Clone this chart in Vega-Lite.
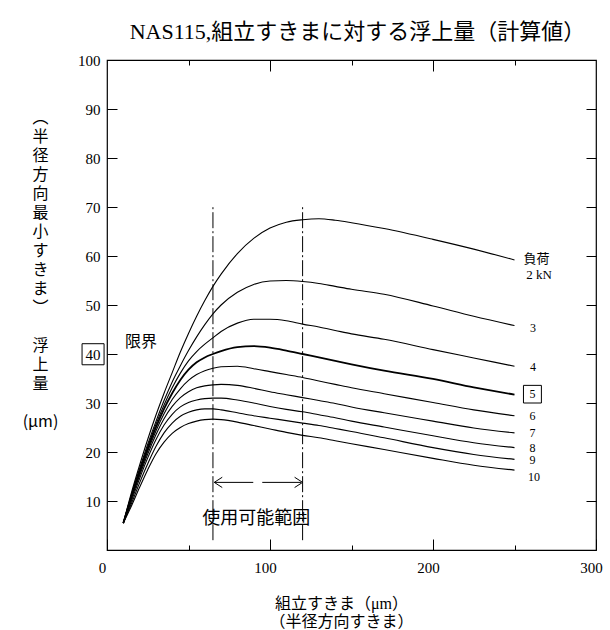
{
  "$schema": "https://vega.github.io/schema/vega-lite/v6.json",
  "width": 489,
  "height": 490,
  "autosize": "none",
  "padding": {"left": 107, "top": 60, "right": 14, "bottom": 80},
  "title": {"text": "NAS115,組立すきまに対する浮上量（計算値）", "font": "Liberation Serif, Noto Sans CJK JP", "fontSize": 22, "fontWeight": "normal", "anchor": "middle", "dx": 6, "offset": 9, "color": "black"},
  "datasets": {
    "curves": [
      {"k":2,"x":10,"y":5.5},{"k":2,"x":15,"y":11.7},{"k":2,"x":20,"y":17.3},{"k":2,"x":25,"y":22.6},{"k":2,"x":30,"y":27.5},{"k":2,"x":35,"y":32.0},{"k":2,"x":40,"y":36.2},{"k":2,"x":45,"y":40.4},{"k":2,"x":50,"y":44.2},{"k":2,"x":55,"y":47.7},{"k":2,"x":60,"y":50.9},{"k":2,"x":65,"y":53.8},{"k":2,"x":70,"y":56.3},{"k":2,"x":80,"y":60.5},{"k":2,"x":90,"y":63.6},{"k":2,"x":100,"y":65.7},{"k":2,"x":110,"y":66.9},{"k":2,"x":120,"y":67.4},{"k":2,"x":130,"y":67.6},{"k":2,"x":140,"y":67.3},{"k":2,"x":150,"y":66.8},{"k":2,"x":170,"y":65.6},{"k":2,"x":200,"y":63.4},{"k":2,"x":225,"y":61.4},{"k":2,"x":250,"y":59.2},
      {"k":3,"x":10,"y":5.5},{"k":3,"x":15,"y":11.3},{"k":3,"x":20,"y":16.6},{"k":3,"x":25,"y":21.6},{"k":3,"x":30,"y":26.2},{"k":3,"x":35,"y":30.5},{"k":3,"x":40,"y":34.3},{"k":3,"x":45,"y":37.6},{"k":3,"x":50,"y":40.7},{"k":3,"x":55,"y":43.5},{"k":3,"x":60,"y":46.0},{"k":3,"x":65,"y":48.2},{"k":3,"x":70,"y":50.0},{"k":3,"x":80,"y":52.6},{"k":3,"x":90,"y":54.2},{"k":3,"x":100,"y":54.9},{"k":3,"x":110,"y":55.0},{"k":3,"x":120,"y":54.8},{"k":3,"x":130,"y":54.4},{"k":3,"x":140,"y":53.8},{"k":3,"x":150,"y":53.2},{"k":3,"x":170,"y":52.2},{"k":3,"x":200,"y":49.8},{"k":3,"x":225,"y":47.7},{"k":3,"x":250,"y":45.8},
      {"k":4,"x":10,"y":5.5},{"k":4,"x":15,"y":11.1},{"k":4,"x":20,"y":16.3},{"k":4,"x":25,"y":21.1},{"k":4,"x":30,"y":25.6},{"k":4,"x":35,"y":29.6},{"k":4,"x":40,"y":33.1},{"k":4,"x":45,"y":36.1},{"k":4,"x":50,"y":38.6},{"k":4,"x":55,"y":40.5},{"k":4,"x":60,"y":42.0},{"k":4,"x":65,"y":43.3},{"k":4,"x":70,"y":44.6},{"k":4,"x":80,"y":46.3},{"k":4,"x":90,"y":47.1},{"k":4,"x":100,"y":47.1},{"k":4,"x":110,"y":46.8},{"k":4,"x":120,"y":46.1},{"k":4,"x":130,"y":45.5},{"k":4,"x":140,"y":44.8},{"k":4,"x":150,"y":44.1},{"k":4,"x":170,"y":43.0},{"k":4,"x":200,"y":40.9},{"k":4,"x":225,"y":39.2},{"k":4,"x":250,"y":37.5},
      {"k":5,"x":10,"y":5.5},{"k":5,"x":15,"y":10.9},{"k":5,"x":20,"y":16.0},{"k":5,"x":25,"y":20.7},{"k":5,"x":30,"y":25.0},{"k":5,"x":35,"y":28.8},{"k":5,"x":40,"y":32.0},{"k":5,"x":45,"y":34.7},{"k":5,"x":50,"y":36.8},{"k":5,"x":55,"y":38.3},{"k":5,"x":60,"y":39.3},{"k":5,"x":65,"y":40.0},{"k":5,"x":70,"y":40.6},{"k":5,"x":80,"y":41.4},{"k":5,"x":90,"y":41.6},{"k":5,"x":100,"y":41.3},{"k":5,"x":110,"y":40.7},{"k":5,"x":120,"y":40.0},{"k":5,"x":130,"y":39.3},{"k":5,"x":140,"y":38.6},{"k":5,"x":150,"y":37.9},{"k":5,"x":170,"y":36.6},{"k":5,"x":200,"y":34.9},{"k":5,"x":225,"y":33.2},{"k":5,"x":250,"y":31.7},
      {"k":6,"x":10,"y":5.5},{"k":6,"x":15,"y":10.7},{"k":6,"x":20,"y":15.6},{"k":6,"x":25,"y":20.2},{"k":6,"x":30,"y":24.3},{"k":6,"x":35,"y":27.8},{"k":6,"x":40,"y":30.7},{"k":6,"x":45,"y":32.9},{"k":6,"x":50,"y":34.6},{"k":6,"x":55,"y":35.8},{"k":6,"x":60,"y":36.6},{"k":6,"x":65,"y":37.1},{"k":6,"x":70,"y":37.4},{"k":6,"x":80,"y":37.5},{"k":6,"x":90,"y":37.0},{"k":6,"x":100,"y":36.4},{"k":6,"x":110,"y":35.8},{"k":6,"x":120,"y":35.2},{"k":6,"x":130,"y":34.5},{"k":6,"x":140,"y":33.8},{"k":6,"x":150,"y":33.1},{"k":6,"x":170,"y":31.9},{"k":6,"x":200,"y":30.1},{"k":6,"x":225,"y":28.6},{"k":6,"x":250,"y":27.4},
      {"k":7,"x":10,"y":5.5},{"k":7,"x":15,"y":10.5},{"k":7,"x":20,"y":15.2},{"k":7,"x":25,"y":19.6},{"k":7,"x":30,"y":23.5},{"k":7,"x":35,"y":26.8},{"k":7,"x":40,"y":29.3},{"k":7,"x":45,"y":31.1},{"k":7,"x":50,"y":32.3},{"k":7,"x":55,"y":33.1},{"k":7,"x":60,"y":33.5},{"k":7,"x":65,"y":33.7},{"k":7,"x":70,"y":33.8},{"k":7,"x":80,"y":33.6},{"k":7,"x":90,"y":33.0},{"k":7,"x":100,"y":32.3},{"k":7,"x":110,"y":31.7},{"k":7,"x":120,"y":31.1},{"k":7,"x":130,"y":30.5},{"k":7,"x":140,"y":29.9},{"k":7,"x":150,"y":29.2},{"k":7,"x":170,"y":28.0},{"k":7,"x":200,"y":26.3},{"k":7,"x":225,"y":24.9},{"k":7,"x":250,"y":23.9},
      {"k":8,"x":10,"y":5.5},{"k":8,"x":15,"y":10.0},{"k":8,"x":20,"y":14.6},{"k":8,"x":25,"y":18.8},{"k":8,"x":30,"y":22.5},{"k":8,"x":35,"y":25.5},{"k":8,"x":40,"y":27.7},{"k":8,"x":45,"y":29.2},{"k":8,"x":50,"y":30.1},{"k":8,"x":55,"y":30.6},{"k":8,"x":60,"y":30.9},{"k":8,"x":65,"y":31.0},{"k":8,"x":70,"y":31.0},{"k":8,"x":80,"y":30.6},{"k":8,"x":90,"y":30.0},{"k":8,"x":100,"y":29.3},{"k":8,"x":110,"y":28.7},{"k":8,"x":120,"y":28.2},{"k":8,"x":130,"y":27.6},{"k":8,"x":140,"y":27.0},{"k":8,"x":150,"y":26.3},{"k":8,"x":170,"y":25.1},{"k":8,"x":200,"y":23.3},{"k":8,"x":225,"y":21.9},{"k":8,"x":250,"y":20.9},
      {"k":9,"x":10,"y":5.5},{"k":9,"x":15,"y":9.5},{"k":9,"x":20,"y":13.7},{"k":9,"x":25,"y":17.6},{"k":9,"x":30,"y":21.1},{"k":9,"x":35,"y":23.9},{"k":9,"x":40,"y":25.9},{"k":9,"x":45,"y":27.3},{"k":9,"x":50,"y":28.1},{"k":9,"x":55,"y":28.6},{"k":9,"x":60,"y":28.8},{"k":9,"x":65,"y":28.8},{"k":9,"x":70,"y":28.6},{"k":9,"x":80,"y":28.0},{"k":9,"x":90,"y":27.4},{"k":9,"x":100,"y":26.9},{"k":9,"x":110,"y":26.4},{"k":9,"x":120,"y":25.9},{"k":9,"x":130,"y":25.4},{"k":9,"x":140,"y":24.8},{"k":9,"x":150,"y":24.2},{"k":9,"x":170,"y":22.9},{"k":9,"x":200,"y":20.9},{"k":9,"x":225,"y":19.5},{"k":9,"x":250,"y":18.5},
      {"k":10,"x":10,"y":5.5},{"k":10,"x":15,"y":9.0},{"k":10,"x":20,"y":12.8},{"k":10,"x":25,"y":16.4},{"k":10,"x":30,"y":19.6},{"k":10,"x":35,"y":22.0},{"k":10,"x":40,"y":23.8},{"k":10,"x":45,"y":25.0},{"k":10,"x":50,"y":25.8},{"k":10,"x":55,"y":26.3},{"k":10,"x":60,"y":26.6},{"k":10,"x":65,"y":26.7},{"k":10,"x":70,"y":26.6},{"k":10,"x":80,"y":26.1},{"k":10,"x":90,"y":25.4},{"k":10,"x":100,"y":24.7},{"k":10,"x":110,"y":24.0},{"k":10,"x":120,"y":23.4},{"k":10,"x":130,"y":22.9},{"k":10,"x":140,"y":22.3},{"k":10,"x":150,"y":21.7},{"k":10,"x":170,"y":20.5},{"k":10,"x":200,"y":18.7},{"k":10,"x":225,"y":17.3},{"k":10,"x":250,"y":16.3}
    ],
    "vlines": [{"x":65,"y":2,"y2":70.2},{"x":120,"y":2,"y2":70.2}],
    "shaft": [{"x":65.8,"x2":120,"y":13.8}],
    "heads": [
      {"x":65.8,"y":13.8,"x2":70.7,"y2":14.85},{"x":65.8,"y":13.8,"x2":70.7,"y2":12.75},
      {"x":120,"y":13.8,"x2":115.1,"y2":14.85},{"x":120,"y":13.8,"x2":115.1,"y2":12.75}
    ],
    "loadlabels": [
      {"t":"負荷","x":263.5,"y":59.3,"s":"h"},{"t":"2 kN","x":265,"y":56.1,"s":"h"},
      {"t":"3","x":261.3,"y":45.4,"s":"n"},{"t":"4","x":261.3,"y":37.4,"s":"n"},{"t":"5","x":261,"y":31.8,"s":"n"},
      {"t":"6","x":261,"y":27.4,"s":"n"},{"t":"7","x":261,"y":23.9,"s":"n"},{"t":"8","x":261,"y":20.9,"s":"n"},
      {"t":"9","x":261,"y":18.4,"s":"n"},{"t":"10","x":262,"y":15.0,"s":"n"}
    ],
    "notes": [
      {"t":"限界","x":11,"y":42.4,"s":"a"},
      {"t":"使用可能範囲","x":58.5,"y":6.4,"s":"b"}
    ],
    "boxes": [
      {"x":-15.3,"x2":-1.8,"y":37.8,"y2":42.1},
      {"x":255.5,"x2":266.5,"y":30.0,"y2":33.6}
    ]
  },
  "layer": [
    {
      "data": {"name": "curves"},
      "mark": {"type": "line", "interpolate": "monotone", "color": "black"},
      "encoding": {
        "x": {"field": "x", "type": "quantitative", "scale": {"domain": [0, 300], "nice": false},
          "axis": {"orient": "bottom", "offset": -11, "values": [0, 50, 100, 150, 200, 250, 300], "labelExpr": "datum.value % 100 === 0 ? datum.label : ''",
            "tickSize": 11, "tickDash": {"condition": {"test": "datum.value % 100 === 0", "value": []}, "value": [0, 6, 5, 0]},
            "labelPadding": 10, "labelOffset": -5, "labelFlush": false,
            "title": ["組立すきま（μm）", "（半径方向すきま）"], "titleX": 234, "titleY": 56, "titleAlign": "center", "titleBaseline": "top",
            "titleFont": "Liberation Serif, Noto Sans CJK JP", "titleFontSize": 16, "titleFontWeight": "normal", "titleLineHeight": 18, "titleColor": "black"}},
        "y": {"field": "y", "type": "quantitative", "scale": {"domain": [0, 100], "nice": false},
          "axis": {"orient": "left", "offset": -10, "values": [10, 20, 30, 40, 50, 60, 70, 80, 90, 100], "tickSize": 10, "labelPadding": 7,
            "title": ["︵","半","径","方","向","最","小","す","き","ま","︶","\u200b","浮","上","量","\u200b","(μm)"],
            "titleAngle": 0, "titleAlign": "center", "titleBaseline": "top", "titleX": -77, "titleY": 49,
            "titleFont": "Noto Sans CJK JP, Liberation Serif", "titleFontSize": 16, "titleFontWeight": "normal", "titleLineHeight": 19, "titleColor": "black"}},
        "detail": {"field": "k", "type": "nominal"},
        "strokeWidth": {"condition": {"test": "datum.k === 5", "value": 1.8}, "value": 1.1}
      }
    },
    {
      "data": {"name": "vlines"},
      "mark": {"type": "rule", "color": "black", "strokeWidth": 1, "strokeDash": [16, 3, 2, 3]},
      "encoding": {
        "x": {"field": "x", "type": "quantitative",
          "axis": {"orient": "top", "offset": -11, "values": [50, 100, 150, 200, 250], "labels": false, "title": null, "tickSize": 11,
            "tickDash": {"condition": {"test": "datum.value % 100 === 0", "value": []}, "value": [0, 6, 5, 0]}}},
        "y": {"field": "y", "type": "quantitative",
          "axis": {"orient": "right", "offset": -10, "values": [10, 20, 30, 40, 50, 60, 70, 80, 90], "labels": false, "title": null, "tickSize": 10}},
        "y2": {"field": "y2"}
      }
    },
    {
      "mark": {"type": "rule", "color": "black", "strokeWidth": 1, "strokeDash": [17, 6]},
      "encoding": {"y": {"datum": 40, "type": "quantitative", "axis": null}}
    },
    {
      "data": {"name": "shaft"},
      "mark": {"type": "rule", "color": "black", "strokeWidth": 1, "strokeDash": [39, 9]},
      "encoding": {
        "x": {"field": "x", "type": "quantitative", "axis": null},
        "x2": {"field": "x2"},
        "y": {"field": "y", "type": "quantitative", "axis": null}
      }
    },
    {
      "data": {"name": "heads"},
      "mark": {"type": "rule", "color": "black", "strokeWidth": 1},
      "encoding": {
        "x": {"field": "x", "type": "quantitative", "axis": null},
        "x2": {"field": "x2"},
        "y": {"field": "y", "type": "quantitative", "axis": null},
        "y2": {"field": "y2"}
      }
    },
    {
      "data": {"name": "loadlabels"},
      "mark": {"type": "text", "font": "Liberation Serif, Noto Sans CJK JP", "color": "black", "align": "center", "baseline": "middle"},
      "encoding": {
        "x": {"field": "x", "type": "quantitative", "axis": null},
        "y": {"field": "y", "type": "quantitative", "axis": null},
        "text": {"field": "t"},
        "size": {"condition": {"test": "datum.s === 'h'", "value": 13}, "value": 12}
      }
    },
    {
      "data": {"name": "notes"},
      "mark": {"type": "text", "font": "Noto Sans CJK JP", "color": "black", "align": "left", "baseline": "middle"},
      "encoding": {
        "x": {"field": "x", "type": "quantitative", "axis": null},
        "y": {"field": "y", "type": "quantitative", "axis": null},
        "text": {"field": "t"},
        "size": {"condition": {"test": "datum.s === 'a'", "value": 16}, "value": 18}
      }
    },
    {
      "data": {"name": "boxes"},
      "mark": {"type": "rect", "fill": null, "fillOpacity": 0, "stroke": "black", "strokeWidth": 1},
      "encoding": {
        "x": {"field": "x", "type": "quantitative", "axis": null},
        "x2": {"field": "x2"},
        "y": {"field": "y", "type": "quantitative", "axis": null},
        "y2": {"field": "y2"}
      }
    }
  ],
  "resolve": {"axis": {"x": "independent", "y": "independent"}},
  "config": {
    "view": {"stroke": "black", "strokeWidth": 1.2, "fill": null},
    "axis": {"grid": false, "domain": false, "ticks": true, "zindex": 1, "tickColor": "black", "tickWidth": 1, "tickOpacity": 1, "labelColor": "black", "labelFont": "Liberation Serif", "labelFontSize": 15}
  }
}
